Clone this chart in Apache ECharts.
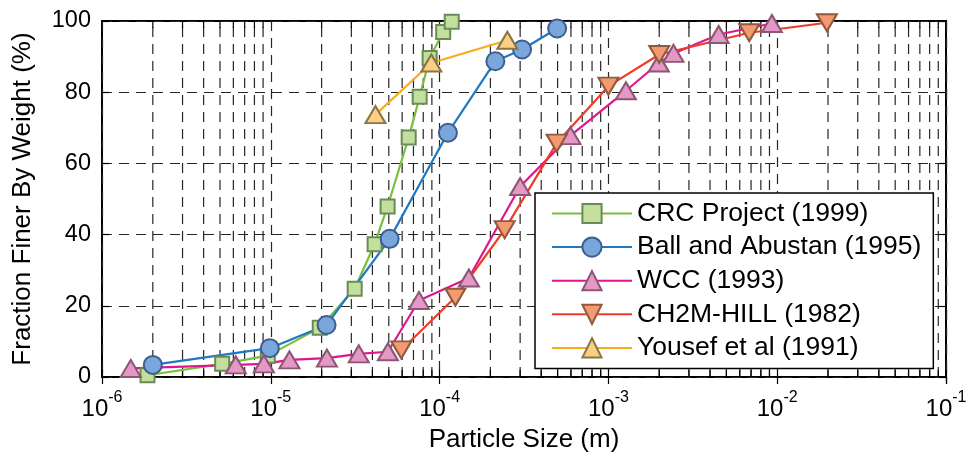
<!DOCTYPE html>
<html>
<head>
<meta charset="utf-8">
<script src="https://cdn.jsdelivr.net/npm/echarts@6/dist/echarts.min.js"></script>
<style>
  html, body { margin: 0; padding: 0; background: #fff; }
  #chart { width: 968px; height: 453px; }
</style>
</head>
<body>
<div id="chart"></div>
<script>
// Particle-size distributions: [size (m), percent finer by weight]
const crcProject = [
  [1.86e-6, 0.5], [5.15e-6, 3.7], [9.6e-6, 6.0], [1.95e-5, 13.8], [3.14e-5, 24.8],
  [4.12e-5, 37.3], [4.92e-5, 47.9], [6.56e-5, 67.3], [7.62e-5, 78.7], [8.73e-5, 89.6],
  [1.05e-4, 96.9], [1.18e-4, 99.8]
];
const ballAbustan = [
  [2.0e-6, 3.4], [9.87e-6, 8.1], [2.14e-5, 14.6], [5.06e-5, 38.8], [1.12e-4, 68.6],
  [2.14e-4, 88.7], [3.08e-4, 92.0], [4.97e-4, 97.9]
];
const wcc = [
  [1.48e-6, 2.4], [6.2e-6, 3.4], [9.1e-6, 3.7], [1.29e-5, 4.8], [2.15e-5, 5.3],
  [3.32e-5, 6.5], [4.94e-5, 7.1], [7.55e-5, 21.5], [1.49e-4, 27.8], [3.0e-4, 53.5],
  [5.96e-4, 67.8], [1.27e-3, 80.4], [1.99e-3, 88.2], [2.43e-3, 90.9], [4.5e-3, 96.2],
  [9.3e-3, 99.3]
];
const ch2mHill = [
  [5.93e-5, 7.6], [1.24e-4, 22.4], [2.43e-4, 41.4], [4.94e-4, 65.7], [1.0e-3, 81.7],
  [2.0e-3, 90.6], [6.83e-3, 96.7], [1.97e-2, 99.5]
];
const yousef = [
  [4.17e-5, 73.7], [8.93e-5, 88.2], [2.52e-4, 94.6]
];

const seriesNames = ['CRC Project (1999)', 'Ball and Abustan (1995)', 'WCC (1993)', 'CH2M-HILL (1982)', 'Yousef et al (1991)'];

// Axis ticks
const xDecadeExponents = [-6, -5, -4, -3, -2, -1];
const yTicks = [0, 20, 40, 60, 80, 100];

const FONT = 'Liberation Sans, Arial, Helvetica, sans-serif';
const GRID_COLOR = '#262626';
const GRID_DASH = { color: GRID_COLOR, width: 1.2, type: [10, 7] };

// 2..9 times each decade, for the log minor grid
const minorTicks = [];
for (let i = 0; i < xDecadeExponents.length - 1; i++) {
  for (let k = 2; k <= 9; k++) minorTicks.push(k * Math.pow(10, xDecadeExponents[i]));
}

const xMin = Math.pow(10, xDecadeExponents[0]);
const xMax = Math.pow(10, xDecadeExponents[xDecadeExponents.length - 1]);

function lineSeries(name, data, lineColor, fill, border, symbol, size) {
  return {
    name: name,
    type: 'line',
    data: data,
    symbol: symbol,
    symbolSize: size,
    showAllSymbol: true,
    lineStyle: { color: lineColor, width: 2.2 },
    itemStyle: { color: fill, borderColor: border, borderWidth: 2 },
    emphasis: { disabled: true }
  };
}

const downTriangle = 'path://M0,0L20,0L10,17Z';

const chart = echarts.init(document.getElementById('chart'), null, { renderer: 'canvas' });

chart.setOption({
  animation: false,
  backgroundColor: '#fff',
  grid: {
    left: 102, right: 22, top: 21, bottom: 76,
    outerBoundsMode: 'none',
    containLabel: false,
    show: true, borderColor: '#000', borderWidth: 2, backgroundColor: 'transparent'
  },
  legend: {
    data: seriesNames,
    orient: 'vertical',
    left: 535, top: 193,
    padding: [7, 12, 7, 16],
    itemWidth: 80, itemHeight: 24, itemGap: 6.6,
    backgroundColor: '#fff',
    borderColor: '#000', borderWidth: 1.5,
    textStyle: { fontFamily: FONT, fontSize: 26.5, color: '#000', lineHeight: 26 },
    selectedMode: false
  },
  xAxis: [{
    type: 'log', logBase: 10, min: xMin, max: xMax, splitNumber: 5,
    name: 'Particle Size (m)', nameLocation: 'middle', nameGap: 50,
    nameTextStyle: { fontFamily: FONT, fontSize: 26, color: '#000' },
    axisLine: { show: false },
    axisTick: { show: true, inside: true, length: 7, lineStyle: { color: '#000', width: 1.2 } },
    axisLabel: {
      margin: 20,
      formatter: function (v) {
        const e = Math.round(Math.log10(v));
        return xDecadeExponents.indexOf(e) >= 0 ? '{b|10}{e|' + e + '}' : '';
      },
      rich: {
        b: { fontFamily: FONT, fontSize: 24, color: '#000', verticalAlign: 'bottom', lineHeight: 24 },
        e: { fontFamily: FONT, fontSize: 16, color: '#000', verticalAlign: 'bottom', lineHeight: 16, padding: [0, 0, 15, 0] }
      }
    },
    splitLine: { show: true, lineStyle: GRID_DASH }
  }, {
    type: 'log', logBase: 10, min: xMin, max: xMax, splitNumber: 5, position: 'top',
    axisLine: { show: false },
    axisTick: { show: true, inside: true, length: 7, lineStyle: { color: '#000', width: 1.2 } },
    axisLabel: { show: false },
    splitLine: { show: false }
  }],
  yAxis: [{
    type: 'value', min: yTicks[0], max: yTicks[yTicks.length - 1], interval: 20,
    name: 'Fraction Finer By Weight (%)', nameLocation: 'middle', nameGap: 66,
    nameTextStyle: { fontFamily: FONT, fontSize: 26, color: '#000' },
    axisLine: { show: false },
    axisTick: { show: true, inside: true, length: 7, lineStyle: { color: '#000', width: 1.2 } },
    axisLabel: { margin: 11, padding: [5, 0, 0, 0], fontFamily: FONT, fontSize: 23.5, color: '#000' },
    splitLine: { show: true, lineStyle: GRID_DASH }
  }, {
    type: 'value', min: yTicks[0], max: yTicks[yTicks.length - 1], interval: 20, position: 'right',
    axisLine: { show: false },
    axisTick: { show: true, inside: true, length: 7, lineStyle: { color: '#000', width: 1.2 } },
    axisLabel: { show: false },
    splitLine: { show: false }
  }],
  series: [
    {
      // minor log grid lines with their inner ticks on the bottom and top edges
      type: 'custom',
      silent: true,
      z: 1,
      data: minorTicks.map(function (v) { return [v, 0]; }),
      renderItem: function (params, api) {
        const v = api.value(0);
        const b = api.coord([v, yTicks[0]]);
        const t = api.coord([v, yTicks[yTicks.length - 1]]);
        return {
          type: 'group',
          children: [
            { type: 'line', shape: { x1: b[0], y1: b[1], x2: t[0], y2: t[1] }, style: { stroke: GRID_COLOR, lineWidth: 1.2, lineDash: [10, 7] } },
            { type: 'line', shape: { x1: b[0], y1: b[1], x2: b[0], y2: b[1] - 7 }, style: { stroke: '#000', lineWidth: 1.2 } },
            { type: 'line', shape: { x1: t[0], y1: t[1], x2: t[0], y2: t[1] + 7 }, style: { stroke: '#000', lineWidth: 1.2 } }
          ]
        };
      }
    },
    lineSeries(seriesNames[0], crcProject, '#77bf41', '#c3df9e', '#6c8a55', 'rect', 14),
    lineSeries(seriesNames[1], ballAbustan, '#1f78c1', '#7aa6dc', '#3c5f8e', 'circle', 18),
    lineSeries(seriesNames[2], wcc, '#e0168f', '#e598c5', '#8b5775', 'triangle', [20, 17]),
    lineSeries(seriesNames[3], ch2mHill, '#ef3b26', '#f59a70', '#8f5a40', downTriangle, [20, 17]),
    lineSeries(seriesNames[4], yousef, '#f8ad1d', '#fdcf85', '#8b7446', 'triangle', [20, 17])
  ]
});
</script>
</body>
</html>
